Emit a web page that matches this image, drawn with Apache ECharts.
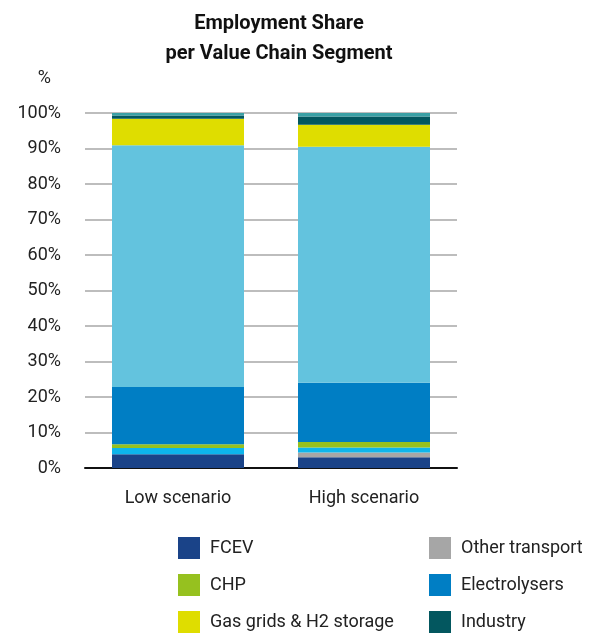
<!DOCTYPE html>
<html>
<head>
<meta charset="utf-8">
<script src="https://cdn.jsdelivr.net/npm/echarts@6/dist/echarts.min.js"></script>
<style>
  html, body { margin: 0; padding: 0; background: #fff; }
  #chart { width: 589px; height: 635px; }
</style>
</head>
<body>
<div id="chart"></div>
<script>
// categories and tick labels
const categories = ['Low scenario', 'High scenario'];
const yTicks = [0, 10, 20, 30, 40, 50, 60, 70, 80, 90, 100];

// shares in %, bottom to top of each bar
const fcev = [3.9, 3.0];
const otherTransport = [0, 1.4];
const unlabelledCyan = [1.7, 1.4];
const chp = [1.1, 1.5];
const electrolysers = [16.1, 16.7];
const unlabelledLight = [68.1, 66.5];
const gasGrids = [7.5, 6.2];
const industry = [0.9, 2.3];
const unlabelledTeal = [1.0, 1.0];

const font = "'Roboto', sans-serif";

const chart = echarts.init(document.getElementById('chart'));

function bar(name, data, color) {
  return {
    name: name,
    type: 'bar',
    stack: 'share',
    data: data,
    barWidth: 132,
    itemStyle: { color: color },
    emphasis: { disabled: true }
  };
}

function legendCol(left, names) {
  return {
    left: left, top: 537, orient: 'vertical', padding: 0, itemGap: 15,
    itemWidth: 22, itemHeight: 22, icon: 'rect',
    data: names,
    textStyle: { fontFamily: font, fontSize: 18, color: '#222', padding: [0, 0, 0, 5] }
  };
}

chart.setOption({
  animation: false,
  title: {
    text: 'Employment Share\nper Value Chain Segment',
    left: 274,
    top: 4,
    textAlign: 'center',
    textStyle: { fontFamily: font, fontSize: 20, fontWeight: 'bold', color: '#111', lineHeight: 30 }
  },
  grid: { left: 85, right: 132, top: 113, bottom: 167 },
  xAxis: {
    type: 'category',
    data: categories,
    axisLine: { lineStyle: { color: '#111', width: 2 } },
    axisTick: { show: false },
    axisLabel: { fontFamily: font, fontSize: 18, color: '#222', margin: 21 }
  },
  yAxis: {
    type: 'value',
    min: 0,
    max: 100,
    interval: 10,
    name: '%',
    nameLocation: 'end',
    nameGap: 26,
    nameTextStyle: { fontFamily: font, fontSize: 18, color: '#222', align: 'right', padding: [0, 34, 0, 0] },
    axisLabel: {
      fontFamily: font, fontSize: 18, color: '#222', margin: 24,
      formatter: v => yTicks.includes(v) ? v + '%' : ''
    },
    splitLine: { lineStyle: { color: '#bdbdbd', width: 2 } }
  },
  legend: [
    legendCol(178, ['FCEV', 'CHP', 'Gas grids & H2 storage']),
    legendCol(429, ['Other transport', 'Electrolysers', 'Industry'])
  ],
  series: [
    bar('FCEV', fcev, '#1a4388'),
    bar('Other transport', otherTransport, '#a6a6a6'),
    bar('Unlabelled (cyan)', unlabelledCyan, '#0db5ec'),
    bar('CHP', chp, '#96c11f'),
    bar('Electrolysers', electrolysers, '#007ec4'),
    bar('Unlabelled (light blue)', unlabelledLight, '#63c3de'),
    bar('Gas grids & H2 storage', gasGrids, '#dfdd00'),
    bar('Industry', industry, '#03575f'),
    bar('Unlabelled (teal)', unlabelledTeal, '#3aa0a5')
  ]
});
</script>
</body>
</html>
